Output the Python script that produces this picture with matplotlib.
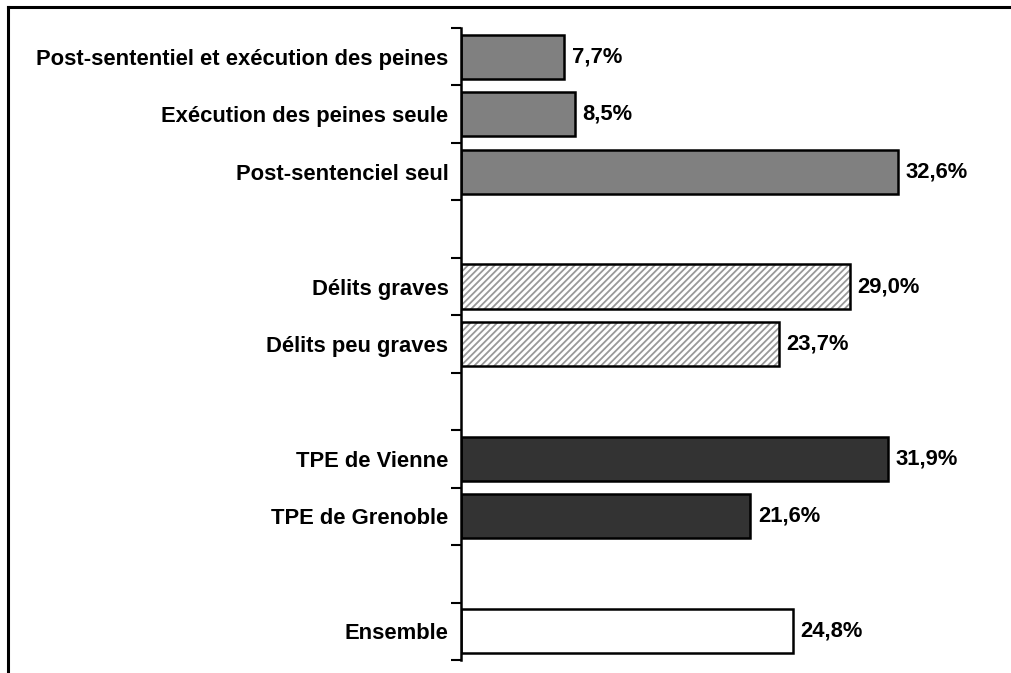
import matplotlib.pyplot as plt
from matplotlib.lines import Line2D

plt.rcParams['font.family'] = ['Liberation Sans', 'DejaVu Sans']
plt.rcParams['font.weight'] = 'bold'
plt.rcParams['hatch.linewidth'] = 1.3

# categories from top to bottom, None = empty slot between groups
categories = ["Post-sententiel et exécution des peines",
              "Exécution des peines seule",
              "Post-sentenciel seul",
              None,
              "Délits graves",
              "Délits peu graves",
              None,
              "TPE de Vienne",
              "TPE de Grenoble",
              None,
              "Ensemble"]
values = [7.7, 8.5, 32.6, None, 29.0, 23.7, None, 31.9, 21.6, None, 24.8]
styles = ["gris", "gris", "gris", None, "hach", "hach", None,
          "fonce", "fonce", None, "blanc"]

fills = {"gris": "#808080", "fonce": "#333333", "blanc": "white", "hach": "white"}
fsize = 15.8

fig = plt.figure(figsize=(10.12, 6.73), dpi=100)
ax = fig.add_axes([461/1012, 13/673, 536/1012, 632/673])

for i, (lab, v, st) in enumerate(zip(categories, values, styles)):
    if v is None:
        continue
    if st == "hach":
        ax.barh(i, v, height=0.77, color="white", edgecolor="#999999",
                hatch="/////", linewidth=0)
        ax.barh(i, v, height=0.77, fill=False, edgecolor="black", linewidth=1.8)
    else:
        ax.barh(i, v, height=0.77, color=fills[st], edgecolor="black", linewidth=1.8)
    ax.text(v + 0.55, i, ("%.1f%%" % v).replace(".", ","), va="center",
            ha="left", fontsize=fsize, fontweight="bold")

n = len(categories)
ax.set_ylim(n - 0.5, -0.5)
ax.set_xlim(0, 40)

# boundary ticks between slots, labels at slot centres
ax.set_yticks([k - 0.5 for k in range(n + 1)])
ax.set_yticklabels([])
ax.set_yticks([i for i, c in enumerate(categories) if c], minor=True)
ax.set_yticklabels([c for c in categories if c], minor=True,
                   fontsize=fsize, fontweight="bold")
ax.tick_params(axis="y", which="major", length=7, width=1.5, direction="out")
ax.tick_params(axis="y", which="minor", length=0, pad=9)

ax.set_xticks([])
for s in ["top", "right", "bottom"]:
    ax.spines[s].set_visible(False)
ax.spines["left"].set_linewidth(1.8)

# outer frame (top and left edges)
fig.add_artist(Line2D([8/1012, 1], [1 - 7/673, 1 - 7/673], color="black",
                      linewidth=2.2, transform=fig.transFigure))
fig.add_artist(Line2D([8/1012, 8/1012], [0, 1 - 7/673], color="black",
                      linewidth=2.2, transform=fig.transFigure))

fig.savefig("out.png", dpi=100)
